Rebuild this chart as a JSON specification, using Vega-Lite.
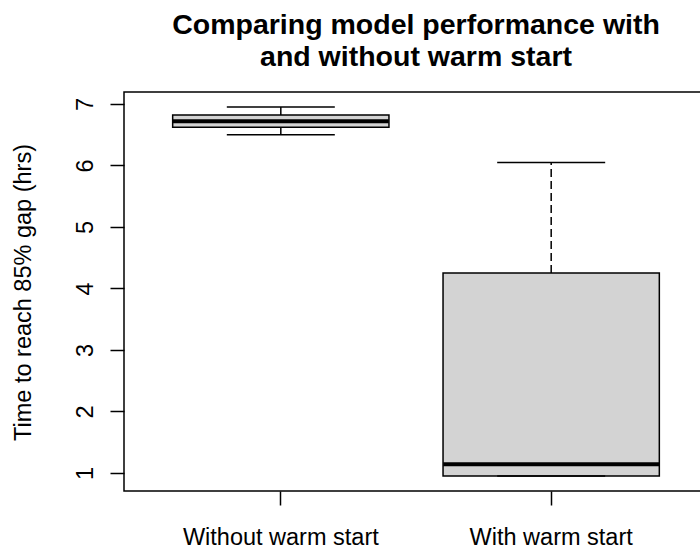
{
  "$schema": "https://vega.github.io/schema/vega-lite/v6.json",
  "autosize": {"type": "none"},
  "padding": {"left": 124, "top": 92, "right": -8, "bottom": 57},
  "width": 584,
  "height": 399,
  "background": "white",
  "title": {
    "text": ["Comparing model performance with", "and without warm start"],
    "font": "Liberation Sans",
    "fontSize": 28.5,
    "fontWeight": "bold",
    "color": "black",
    "lineHeight": 32,
    "anchor": "middle",
    "frame": "group",
    "baseline": "bottom",
    "offset": 24,
    "dy": 32
  },
  "data": {
    "values": [
      {"group": "Without warm start", "lower": 6.50, "q1": 6.62, "median": 6.72, "q3": 6.82, "upper": 6.95},
      {"group": "With warm start", "lower": 0.95, "q1": 0.95, "median": 1.14, "q3": 4.25, "upper": 6.05}
    ]
  },
  "encoding": {
    "x": {
      "field": "group",
      "type": "nominal",
      "sort": null,
      "scale": {"paddingInner": 0.2, "paddingOuter": 0.18},
      "axis": {
        "title": null,
        "labelAngle": 0,
        "labelLimit": 0,
        "domain": false,
        "tickSize": 14,
        "tickWidth": 1.5,
        "tickColor": "black",
        "labelPadding": 20,
        "labelFont": "Liberation Sans",
        "labelFontSize": 23.5,
        "labelColor": "black"
      }
    }
  },
  "layer": [
    {
      "mark": {"type": "rule", "stroke": "black", "strokeWidth": 1.5, "strokeDash": [8, 4]},
      "encoding": {
        "y": {
          "field": "q3",
          "type": "quantitative",
          "scale": {"domain": [0.707, 7.195], "nice": false, "zero": false},
          "axis": {
            "title": "Time to reach 85% gap (hrs)",
            "values": [1, 2, 3, 4, 5, 6, 7],
            "format": "d",
            "grid": false,
            "domain": false,
            "tickSize": 14,
            "tickWidth": 1.5,
            "tickColor": "black",
            "labelAngle": -90,
            "labelAlign": "center",
            "labelBaseline": "alphabetic",
            "labelPadding": 18,
            "labelFont": "Liberation Sans",
            "labelFontSize": 23.5,
            "labelColor": "black",
            "titleFont": "Liberation Sans",
            "titleFontSize": 23.5,
            "titleFontWeight": "normal",
            "titleColor": "black",
            "titleAngle": -90,
            "titleAlign": "center",
            "titleBaseline": "alphabetic",
            "titleX": -94,
            "titleY": 200
          }
        },
        "y2": {"field": "upper"}
      }
    },
    {
      "mark": {"type": "rule", "stroke": "black", "strokeWidth": 1.5, "strokeDash": [8, 4]},
      "encoding": {
        "y": {"field": "lower", "type": "quantitative"},
        "y2": {"field": "q1"}
      }
    },
    {
      "mark": {"type": "bar", "fill": "#d3d3d3", "stroke": "black", "strokeWidth": 1.5},
      "encoding": {
        "y": {"field": "q1", "type": "quantitative"},
        "y2": {"field": "q3"}
      }
    },
    {
      "mark": {"type": "tick", "color": "black", "size": 216, "thickness": 4, "opacity": 1},
      "encoding": {
        "y": {"field": "median", "type": "quantitative"}
      }
    },
    {
      "mark": {"type": "tick", "color": "black", "size": 108, "thickness": 1.5, "opacity": 1},
      "encoding": {
        "y": {"field": "upper", "type": "quantitative"}
      }
    },
    {
      "mark": {"type": "tick", "color": "black", "size": 108, "thickness": 1.5, "opacity": 1},
      "encoding": {
        "y": {"field": "lower", "type": "quantitative"}
      }
    }
  ],
  "config": {
    "view": {"stroke": "black", "strokeWidth": 1.5}
  }
}
